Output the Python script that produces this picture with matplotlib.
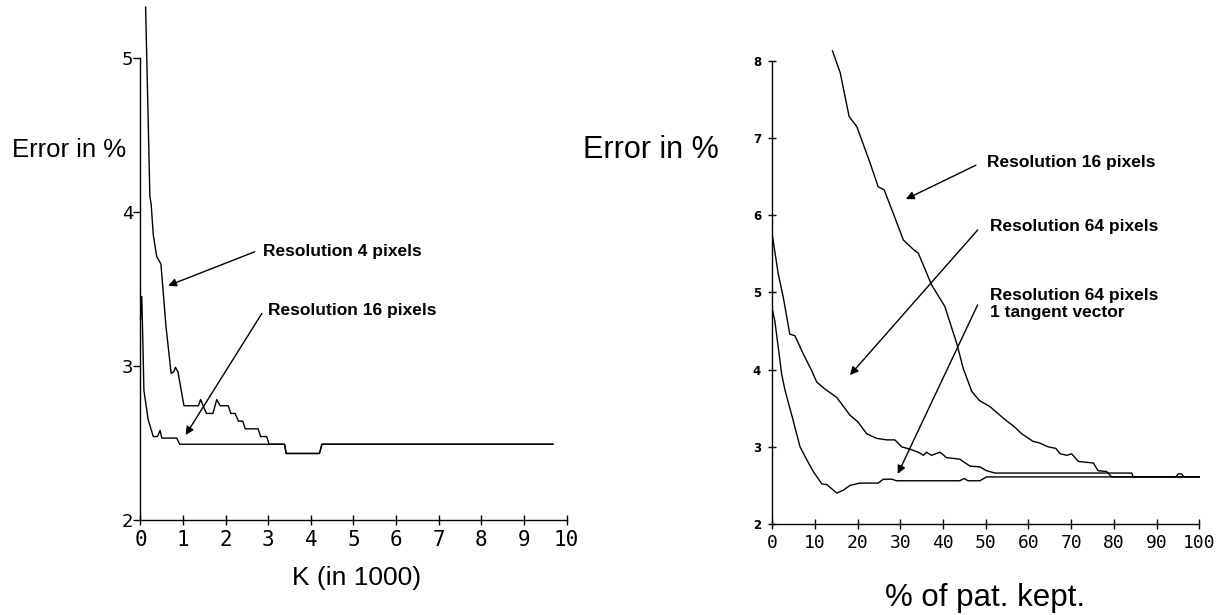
import numpy as np
import matplotlib
matplotlib.use('Agg')
import matplotlib.pyplot as plt

# left panel: error vs K (in 1000)
res4_x = [0.12, 0.18, 0.22, 0.25, 0.30, 0.38, 0.48, 0.60, 0.72, 0.78, 0.82, 0.88, 0.95, 1.02,
          1.36, 1.41, 1.47, 1.55, 1.70, 1.79, 1.87, 2.06, 2.12, 2.22, 2.30, 2.40, 2.46, 2.76,
          2.82, 2.96, 3.02, 3.38, 3.42, 4.20, 4.26, 9.68]
res4_y = [5.33, 4.60, 4.10, 4.05, 3.85, 3.71, 3.66, 3.25, 2.95, 2.96, 2.99, 2.96, 2.85, 2.74,
          2.74, 2.78, 2.74, 2.69, 2.69, 2.78, 2.74, 2.74, 2.69, 2.69, 2.64, 2.64, 2.59, 2.59,
          2.54, 2.54, 2.49, 2.49, 2.43, 2.43, 2.49, 2.49]
res16_x = [0.0, 0.03, 0.06, 0.08, 0.18, 0.30, 0.40, 0.46, 0.50, 0.85, 0.92, 3.38, 3.42, 4.20, 4.26, 9.68]
res16_y = [3.30, 3.45, 3.10, 2.84, 2.65, 2.54, 2.54, 2.58, 2.53, 2.53, 2.49, 2.49, 2.43, 2.43, 2.49, 2.49]

# right panel: error vs % of patterns kept
p16_x = [14.1, 15.9, 18.0, 19.8, 22.9, 24.8, 26.2, 28.3, 30.7, 33.0, 34.2, 37.3, 40.4, 43.2,
         44.7, 46.7, 48.5, 51.0, 53.3, 55.0, 56.5, 58.4, 61.1, 62.6, 64.6, 66.4, 67.4, 69.0,
         70.1, 71.7, 75.2, 76.3, 78.3, 79.5, 100]
p16_y = [8.13, 7.85, 7.28, 7.15, 6.68, 6.37, 6.33, 6.03, 5.68, 5.56, 5.51, 5.10, 4.82, 4.34,
         4.02, 3.72, 3.60, 3.52, 3.41, 3.33, 3.27, 3.17, 3.07, 3.05, 3.00, 2.98, 2.91, 2.89,
         2.91, 2.81, 2.79, 2.69, 2.68, 2.61, 2.61]
p64_x = [0.1, 1.4, 2.6, 4.1, 5.3, 7.3, 9.2, 10.4, 12.3, 15.1, 18.2, 20.1, 22.1, 24.4, 26.8,
         28.7, 30.3, 32.2, 34.2, 35.4, 36.1, 37.3, 39.3, 40.8, 43.9, 46.3, 48.6, 50.2, 52.2,
         84.2, 84.5, 100]
p64_y = [5.71, 5.24, 4.93, 4.46, 4.44, 4.20, 3.99, 3.84, 3.75, 3.64, 3.41, 3.32, 3.17, 3.11,
         3.09, 3.09, 3.00, 2.97, 2.93, 2.89, 2.93, 2.89, 2.93, 2.86, 2.84, 2.75, 2.74, 2.69,
         2.66, 2.66, 2.61, 2.61]
tan_x = [0.1, 0.6, 1.8, 2.2, 3.0, 4.9, 6.5, 8.1, 9.6, 11.6, 12.8, 15.1, 16.7, 18.2, 20.5,
         24.8, 26.0, 28.0, 29.1, 43.9, 45.0, 45.8, 48.6, 50.2, 94.5, 95.1, 95.8, 96.4, 100]
tan_y = [4.76, 4.63, 4.12, 3.94, 3.73, 3.34, 3.00, 2.83, 2.68, 2.52, 2.51, 2.40, 2.44, 2.50,
         2.53, 2.53, 2.58, 2.58, 2.56, 2.56, 2.59, 2.56, 2.56, 2.61, 2.61, 2.65, 2.65, 2.61, 2.61]

left_xticks = list(range(0, 11))
left_yticks = [2, 3, 4, 5]
right_xticks = list(range(0, 101, 10))
right_yticks = [2, 3, 4, 5, 6, 7, 8]

fig = plt.figure(figsize=(12.27, 6.15), dpi=100)
ax1 = fig.add_axes([0.1145, 0.155, 0.3472, 0.751])
ax2 = fig.add_axes([0.6294, 0.148, 0.348, 0.7528])

lw = 1.0
ax1.plot(res4_x, res4_y, color='black', lw=lw, clip_on=False)
ax1.plot(res16_x, res16_y, color='black', lw=lw, clip_on=False)
ax2.plot(p16_x, p16_y, color='black', lw=lw, clip_on=False)
ax2.plot(p64_x, p64_y, color='black', lw=lw, clip_on=False)
ax2.plot(tan_x, tan_y, color='black', lw=lw, clip_on=False)

ax1.set_xlim(0, 10)
ax1.set_ylim(2, 5)
ax2.set_xlim(0, 100)
ax2.set_ylim(2, 8)

for ax in (ax1, ax2):
    ax.spines['top'].set_visible(False)
    ax.spines['right'].set_visible(False)
    ax.spines['left'].set_linewidth(1.0)
    ax.spines['bottom'].set_linewidth(1.0)
    ax.tick_params(axis='x', direction='inout', length=7, width=1.0, pad=4)

ax1.set_xticks(left_xticks)
ax1.set_xticklabels([str(t) for t in left_xticks], family='DejaVu Sans Mono', fontsize=15)
ax1.set_yticks(left_yticks)
ax1.set_yticklabels([str(t) for t in left_yticks], family='DejaVu Sans', fontsize=13)
ax1.tick_params(axis='y', direction='out', length=5, width=1.0, pad=0)

ax2.set_xticks(right_xticks)
ax2.set_xticklabels([str(t) for t in right_xticks], family='DejaVu Sans Mono', fontsize=13)
ax2.set_yticks(right_yticks)
ax2.set_yticklabels([str(t) for t in right_yticks], family='DejaVu Sans', fontsize=8.5,
                    fontweight='bold')
ax2.tick_params(axis='y', direction='inout', length=6, width=1.0, pad=5)

arrow = dict(arrowstyle='-|>', color='black', lw=1.0, mutation_scale=12, shrinkA=0, shrinkB=0)
ann_font = dict(family='Liberation Sans', fontsize=12.5, fontweight='bold', va='center', ha='left')

# left annotations
ax1.annotate('', xy=(0.65, 3.52), xytext=(2.68, 3.74), arrowprops=arrow, annotation_clip=False)
ax1.text(2.88, 3.74, 'Resolution 4 pixels', **ann_font)
ax1.annotate('', xy=(1.06, 2.55), xytext=(2.85, 3.34), arrowprops=arrow, annotation_clip=False)
ax1.text(2.99, 3.36, 'Resolution 16 pixels', **ann_font)

# right annotations
ax2.annotate('', xy=(31.3, 6.21), xytext=(47.7, 6.65), arrowprops=arrow, annotation_clip=False)
ax2.text(50.3, 6.68, 'Resolution 16 pixels', **ann_font)
ax2.annotate('', xy=(18.2, 3.93), xytext=(48.1, 5.81), arrowprops=arrow, annotation_clip=False)
ax2.text(50.9, 5.85, 'Resolution 64 pixels', **ann_font)
ax2.annotate('', xy=(29.4, 2.65), xytext=(48.1, 4.84), arrowprops=arrow, annotation_clip=False)
ax2.text(50.9, 4.85, 'Resolution 64 pixels\n1 tangent vector', linespacing=1.1, **ann_font)

# axis labels placed as in the scan
fig.text(12 / 1227, 1 - 150 / 615, 'Error in %', family='Liberation Sans', fontsize=18.5,
         ha='left', va='center')
fig.text(583 / 1227, 1 - 150 / 615, 'Error in %', family='Liberation Sans', fontsize=22,
         ha='left', va='center')
fig.text(357 / 1227, 1 - 578 / 615, 'K (in 1000)', family='Liberation Sans', fontsize=19,
         ha='center', va='center')
fig.text(985 / 1227, 1 - 598 / 615, '% of pat. kept.', family='Liberation Sans', fontsize=22.5,
         ha='center', va='center')

fig.savefig('out.png', dpi=100)
